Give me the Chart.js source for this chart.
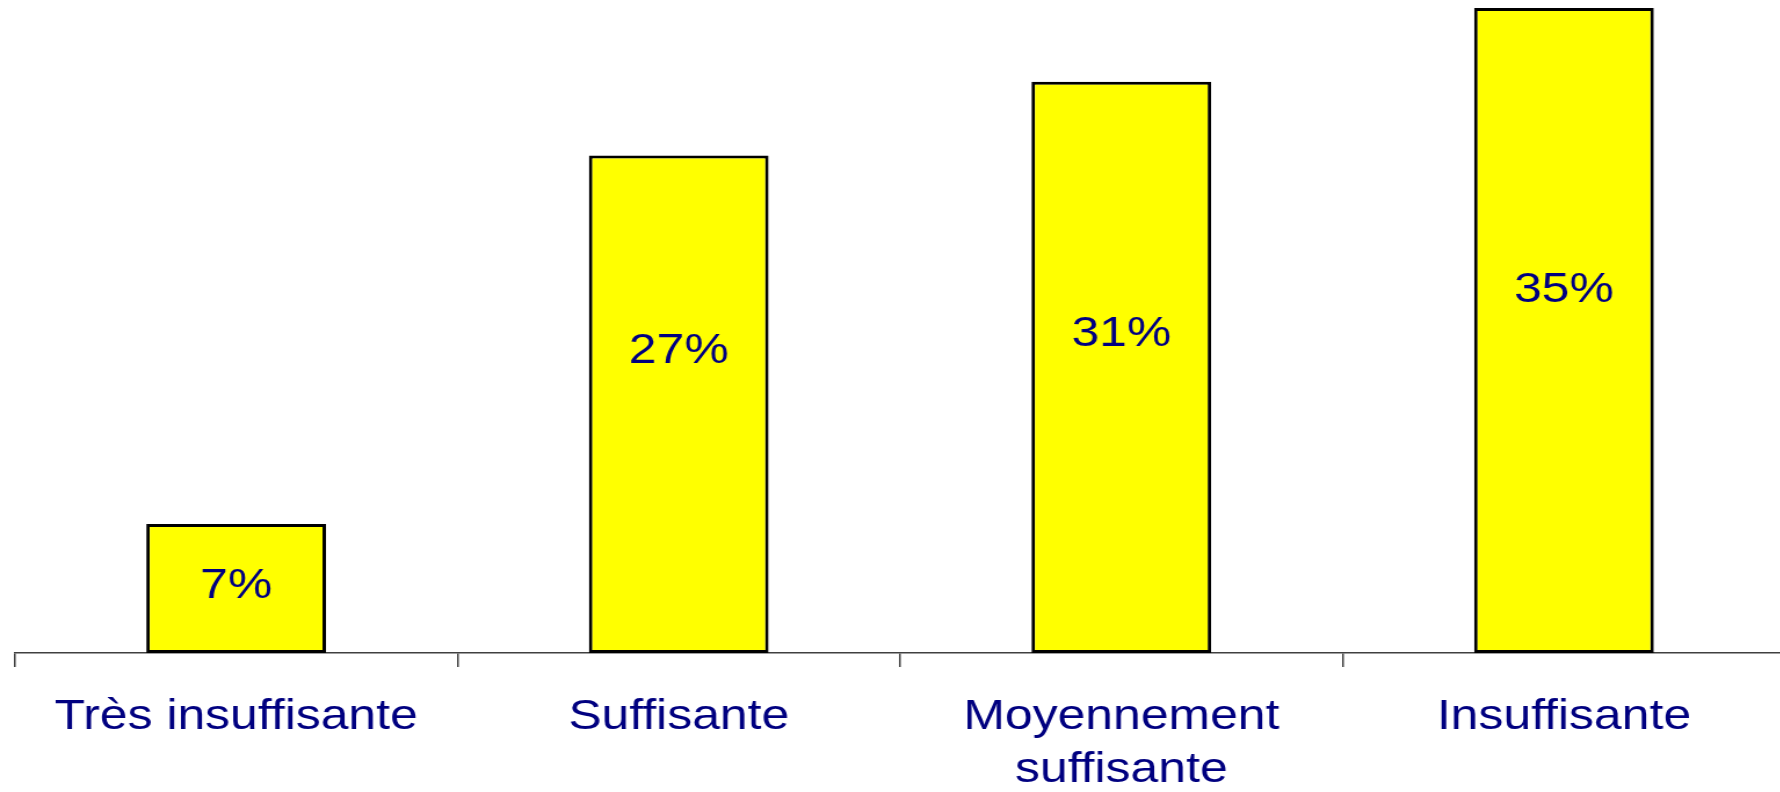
<!DOCTYPE html>
<html>
<head>
<meta charset="utf-8">
<script src="https://cdn.jsdelivr.net/npm/chart.js@4"></script>
<style>
  html, body { margin: 0; padding: 0; background: #ffffff; overflow: hidden; }
  #wrap { width: 1542px; height: 792px; transform: scaleX(1.16); transform-origin: 0 0; }
  canvas { display: block; }
</style>
</head>
<body>
<div id="wrap"><canvas id="c" width="1542" height="792"></canvas></div>
<script>
// ---- data ----
const categories = ['Très insuffisante', 'Suffisante', ['Moyennement', 'suffisante'], 'Insuffisante'];
const values = [7, 27, 31, 35];
const valueLabels = ['7%', '27%', '31%', '35%'];
// where each value label sits, in value units (as in the reference)
const labelAnchor = [3.65, 16.4, 17.3, 19.7];

const FONT = '"Liberation Sans", Arial, Helvetica, sans-serif';
const NAVY = '#000080';

const valueLabelPlugin = {
  id: 'valueLabels',
  afterDatasetsDraw(chart) {
    const ctx = chart.ctx;
    const meta = chart.getDatasetMeta(0);
    const y = chart.scales.y;
    ctx.save();
    ctx.font = '43px ' + FONT;
    ctx.fillStyle = NAVY;
    ctx.textAlign = 'center';
    ctx.textBaseline = 'middle';
    meta.data.forEach((bar, i) => {
      ctx.fillText(valueLabels[i], bar.x, y.getPixelForValue(labelAnchor[i]));
    });
    ctx.restore();
  }
};

new Chart(document.getElementById('c'), {
  type: 'bar',
  data: {
    labels: categories,
    datasets: [{
      data: values,
      backgroundColor: '#ffff00',
      borderColor: '#000000',
      borderWidth: 3,
      borderSkipped: false,
      barPercentage: 0.406,
      categoryPercentage: 1.0
    }]
  },
  options: {
    responsive: false,
    animation: false,
    devicePixelRatio: 1,
    layout: { padding: { left: 12.8, right: 3, top: 8, bottom: 0 } },
    plugins: { legend: { display: false }, tooltip: { enabled: false } },
    scales: {
      x: {
        type: 'category',
        offset: true,
        grid: {
          offset: true,
          drawOnChartArea: false,
          drawTicks: true,
          tickLength: 14,
          color: '#404040',
          lineWidth: 1.5
        },
        border: { display: true, color: '#404040', width: 1.5 },
        ticks: {
          color: NAVY,
          font: { family: FONT, size: 43, lineHeight: 1.25 },
          padding: 23,
          maxRotation: 0,
          minRotation: 0,
          autoSkip: false
        },
        afterFit(scale) { scale.height = 139; }
      },
      y: {
        display: false,
        min: 0,
        max: 35
      }
    }
  },
  plugins: [valueLabelPlugin]
});
</script>
</body>
</html>
